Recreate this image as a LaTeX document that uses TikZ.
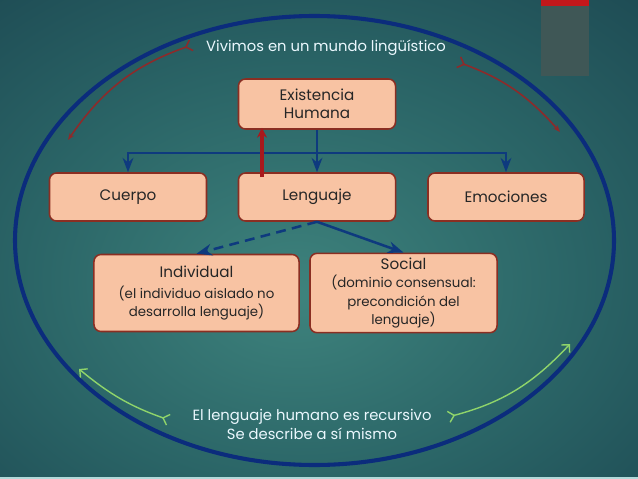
\documentclass[tikz,border=0pt]{standalone}
\usepackage{fontspec}
\setmainfont{Poppins}
\usetikzlibrary{positioning,arrows.meta,calc}
\definecolor{bgin}{HTML}{3E837D}
\definecolor{bgmid}{HTML}{2A6466}
\definecolor{bgout}{HTML}{163B48}
\definecolor{boxfill}{HTML}{F8C3A3}
\definecolor{boxline}{HTML}{8A2E22}
\definecolor{navy}{HTML}{0B2C7C}
\definecolor{linkblue}{HTML}{0E3A7E}
\definecolor{thickred}{HTML}{A8191C}
\definecolor{thinred}{HTML}{8E2A2A}
\definecolor{lightgreen}{HTML}{8FD46A}
\definecolor{tabgrey}{HTML}{3F5756}
\definecolor{tabred}{HTML}{C3171B}
\pgfdeclareradialshading{slidebg}{\pgfpoint{-2bp}{-6bp}}{color(0bp)=(bgin); color(22bp)=(bgmid); color(50bp)=(bgout); color(72bp)=(bgout)}

\begin{document}
\begin{tikzpicture}[x=0.025cm, y=-0.025cm, >=Stealth,
    box/.style={draw=boxline, line width=1.1pt, fill=boxfill, rounded corners=5pt,
        align=center, text=black!85, font=\fontsize{10.8}{13}\selectfont},
    link/.style={draw=linkblue, line width=1.6pt},
    note/.style={text=white!92!cyan, align=center, font=\fontsize{10.5}{13.5}\selectfont}]

    % fondo
    \useasboundingbox (0,0) rectangle (638,479);
    \shade[shading=slidebg] (0,0) rectangle (638,477);
    \fill[white!70!teal] (0,477) rectangle (638,479);
    \fill[tabgrey] (541,0) rectangle (589,76);
    \fill[tabred] (541,0) rectangle (589,6);

    % elipse
    \draw[navy, line width=2.9pt] (314.5,240.5) ellipse [x radius=299.5, y radius=224.5];

    % cajas
    \node[box, minimum width=3.925cm, minimum height=1.25cm] (exis) at (317,104) {Existencia\\Humana};
    \node[box, minimum width=3.925cm, minimum height=1.2cm] (leng) at (317,197) {Lenguaje};
    \node[box, minimum width=3.925cm, minimum height=1.2cm] (cuerpo) at (128,197) {Cuerpo};
    \node[box, minimum width=3.9cm, minimum height=1.2cm] (emoc) at (506,197) {Emociones};
    \node[box, minimum width=5.125cm, minimum height=1.925cm] (indiv) at (196.5,293)
        {Individual\\[2pt]{\fontsize{9.5}{12}\selectfont(el individuo aislado no}\\{\fontsize{9.5}{12}\selectfont desarrolla lenguaje)}};
    \node[box, minimum width=4.675cm, minimum height=1.925cm] (social) at (403.5,293)
        {Social\\{\fontsize{9.5}{12}\selectfont(dominio consensual:}\\{\fontsize{9.5}{12}\selectfont precondición del}\\{\fontsize{9.5}{12}\selectfont lenguaje)}};

    % textos
    \node[note] (top) at (326,48) {Vivimos en un mundo lingüístico};
    \node[note] (bottom) at (312,424) {El lenguaje humano es recursivo\\Se describe a sí mismo};

    % conectores
    \coordinate (bar) at (0,153);
    \draw[link, ->] (exis.south) -- (leng.north);
    \draw[link, {Stealth}-{Stealth}] (cuerpo.north) -- (cuerpo.north |- bar) -- (emoc.north |- bar) -- (emoc.north);
    \draw[thickred, line width=3pt, -{Stealth[length=7pt,width=7pt]}]
        ([xshift=-1.375cm,yshift=-0.12cm]leng.north) -- ([xshift=-1.375cm,yshift=0.05cm]exis.south);
    \draw[link, line width=1.8pt, dash pattern=on 7pt off 4.5pt, ->] (leng.south) -- (indiv.north);
    \draw[link, line width=1.8pt, ->] (leng.south) -- (social.north);

    % flechas curvas
    \coordinate (redA) at (192,45);
    \coordinate (redB) at (68,140);
    \coordinate (redC) at (458,62);
    \coordinate (redD) at (560,132);
    \draw[thinred, line width=1.1pt, {Straight Barb[reversed,length=4pt]}-{Stealth[length=5pt]}] (redA) to[bend right=18] (redB);
    \draw[thinred, line width=1.1pt, {Straight Barb[reversed,length=4pt]}-{Stealth[length=5pt]}] (redC) to[bend left=14] (redD);
    \coordinate (grnA) at (169,420);
    \coordinate (grnB) at (79,369);
    \coordinate (grnC) at (448,417);
    \coordinate (grnD) at (570,344);
    \draw[lightgreen, line width=1pt, {Straight Barb[reversed,length=4pt]}-{Straight Barb[length=4pt]}] (grnA) to[bend left=10] (grnB);
    \draw[lightgreen, line width=1pt, {Straight Barb[reversed,length=4pt]}-{Straight Barb[length=4pt]}] (grnC) to[bend right=16] (grnD);
\end{tikzpicture}
\end{document}
